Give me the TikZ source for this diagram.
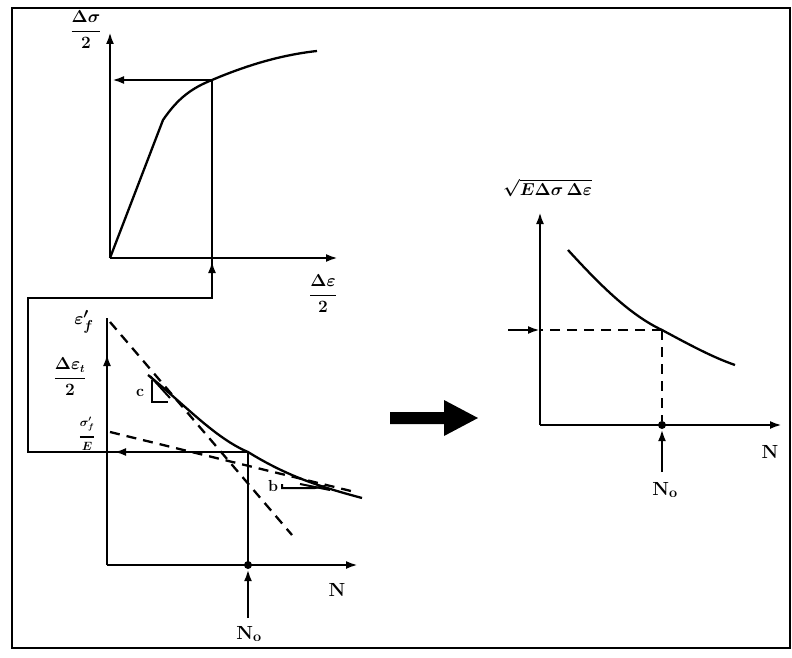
\documentclass[tikz,border=0pt]{standalone}
\usepackage{amsmath}
\usetikzlibrary{arrows.meta}
\newcommand{\ufrac}[2]{\genfrac{}{}{1.6pt}{0}{#1}{#2}}
\begin{document}
\begin{tikzpicture}[x=1pt,y=-1pt,
  ln/.style={line width=2.8pt},
  crv/.style={line width=2.3pt},
  dsh/.style={line width=2.3pt,dash pattern=on 10pt off 7pt},
  ar/.style={-{Latex[length=12pt,width=8pt]}},
  lbl/.style={font=\fontsize{19}{21}\selectfont\bfseries\boldmath,inner sep=0pt},
  sml/.style={font=\fontsize{16}{17}\selectfont\bfseries\boldmath,inner sep=0pt},
  dot/.style={circle,fill=black,inner sep=0pt,minimum size=8pt}]
\useasboundingbox (0,0) rectangle (792,658);
\draw[line width=2.5pt] (12,8) rectangle (790,648);
% ---------- top graph ----------
\coordinate (o1) at (110,258);
\coordinate (y1) at (110,32);
\coordinate (x1) at (338,258);
\draw[ln,ar] (o1) -- (y1);
\draw[ln,ar] (o1) -- (x1);
\node[lbl] (ls) at (86,30) {$\ufrac{\Delta\sigma}{2}$};
\node[lbl] (le) at (323,294) {$\ufrac{\Delta\varepsilon}{2}$};
\coordinate (p1) at (212,80);
\draw[crv] (o1) -- (163,120) .. controls (178,98) and (192,88) .. (p1)
  .. controls (245,66) and (280,55) .. (317,51);
% connector path
\coordinate (q1) at (212,298);
\coordinate (q2) at (28,298);
\coordinate (q3) at (28,452);
\coordinate (p2) at (248,452);
\coordinate (o2) at (107,565);
\coordinate (d2) at (248,565);
\draw[ln] (p1) -- (q1) -- (q2) -- (q3) -- (p2) -- (d2);
\draw[ln,ar] (p1) -- (112,80);
\draw[ln,ar] (212,292) -- (212,261);
\draw[ln,ar] (150,452) -- (114,452);
% ---------- bottom graph ----------
\coordinate (y2) at (107,318);
\coordinate (x2) at (358,565);
\draw[ln] (o2) -- (y2);
\draw[ln,ar] (107,388) -- (107,354);
\draw[ln,ar] (o2) -- (x2);
\node[dot] (n2) at (d2) {};
\node[lbl] (lN2) at (337,590) {N};
\node[lbl] (lN02) at (249,634) {N$_{\mathbf o}$};
\draw[ln,ar] (248,618) -- (n2);
\node[lbl] (lef) at (84,322) {$\varepsilon'_{f}$};
\node[sml] (let) at (70,377) {$\ufrac{\Delta\varepsilon_t}{2}$};
\node[sml,font=\fontsize{12}{13}\selectfont\bfseries\boldmath] (lsf) at (87,434) {$\ufrac{\sigma'_{f}}{E}$};
\draw[crv] (148,375) .. controls (185,405) and (215,438) .. (p2)
  .. controls (290,478) and (325,488) .. (362,498);
\draw[dsh] (110,322) -- (292,535);
\draw[dsh] (110,432) -- (355,492);
% triangles
\draw[line width=2pt] (152,380) -- (152,402) -- (168,402);
\draw[line width=2pt] (150,376) -- (170,398);
\node[sml] (lc) at (140,393) {c};
\draw[line width=2pt] (282,484) -- (282,488) -- (315,488) -- (325,486);
\draw[line width=2pt] (300,484) -- (330,490);
\node[sml] (lb) at (273,486) {b};
% ---------- big arrow ----------
\fill (390,412) -- (444,412) -- (444,400) -- (478,418) -- (444,436) -- (444,424) -- (390,424) -- cycle;
% ---------- right graph ----------
\coordinate (o3) at (540,425);
\coordinate (y3) at (540,212);
\coordinate (x3) at (782,425);
\draw[ln,ar] (o3) -- (y3);
\draw[ln,ar] (o3) -- (x3);
\node[lbl,anchor=west] (lsq) at (503,188) {$\sqrt{E\Delta\sigma\,\Delta\varepsilon}$};
\coordinate (p3) at (662,330);
\draw[crv] (568,250) .. controls (600,285) and (630,315) .. (p3)
  .. controls (690,345) and (712,357) .. (735,365);
\node[dot] (n3) at (662,425) {};
\draw[dsh] (p3) -- (n3);
\draw[dsh] (p3) -- (540,330);
\draw[ln,ar] (508,330) -- (540,330);
\draw[ln,ar] (662,472) -- (n3);
\node[lbl] (lN3) at (770,452) {N};
\node[lbl] (lN03) at (665,490) {N$_{\mathbf o}$};
\end{tikzpicture}
\end{document}
